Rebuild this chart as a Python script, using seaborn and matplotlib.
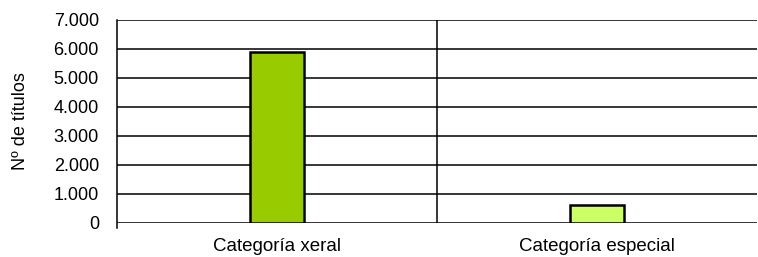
import numpy as np
import pandas as pd
import matplotlib
matplotlib.use('Agg')
import matplotlib.pyplot as plt
import seaborn as sns
from matplotlib.ticker import FuncFormatter

categorias = ['Categoría xeral', 'Categoría especial']
titulos = [5880, 620]
cores = ['#99CC00', '#CCFF66']

sns.set_style('white')
plt.rcParams['font.family'] = ['Liberation Sans', 'DejaVu Sans']

df = pd.DataFrame({'categoria': categorias, 'titulos': titulos})

fig = plt.figure(figsize=(7.58, 2.57), dpi=100)
ax = fig.add_axes([0.1544, 0.1323, 0.8443, 0.79])

sns.barplot(data=df, x='categoria', y='titulos', hue='categoria', palette=cores,
            saturation=1, legend=False, width=0.17, edgecolor='black', linewidth=1.8,
            ax=ax, zorder=3)

ax.set_ylim(0, 7000)
ax.set_xlim(-0.5, 1.5)
ax.set_yticks(np.arange(0, 7001, 1000))
ax.yaxis.set_major_formatter(FuncFormatter(lambda v, p: f'{int(v):,}'.replace(',', '.')))
ax.grid(axis='y', color='black', linewidth=1.1, zorder=0)
ax.axvline(0.5, color='black', linewidth=1.1, zorder=1)

for s in ['top', 'right', 'bottom']:
    ax.spines[s].set_visible(False)
ax.spines['left'].set_color('black')
ax.spines['left'].set_linewidth(1.1)
ax.spines['left'].set_bounds(-170, 7000)

ax.set_xticks([-0.5, 0.5, 1.5], minor=True)
ax.tick_params(axis='x', which='major', length=0, labelsize=13.5, pad=11, colors='black')
ax.tick_params(axis='x', which='minor', length=5, width=1.1, color='black')
ax.tick_params(axis='y', length=4, width=1.1, color='black', labelsize=13, labelcolor='black', pad=9)

ax.set_xlabel('')
ax.set_ylabel('Nº de títulos', fontsize=13, color='black', labelpad=18)

fig.savefig('out.png', dpi=100)
